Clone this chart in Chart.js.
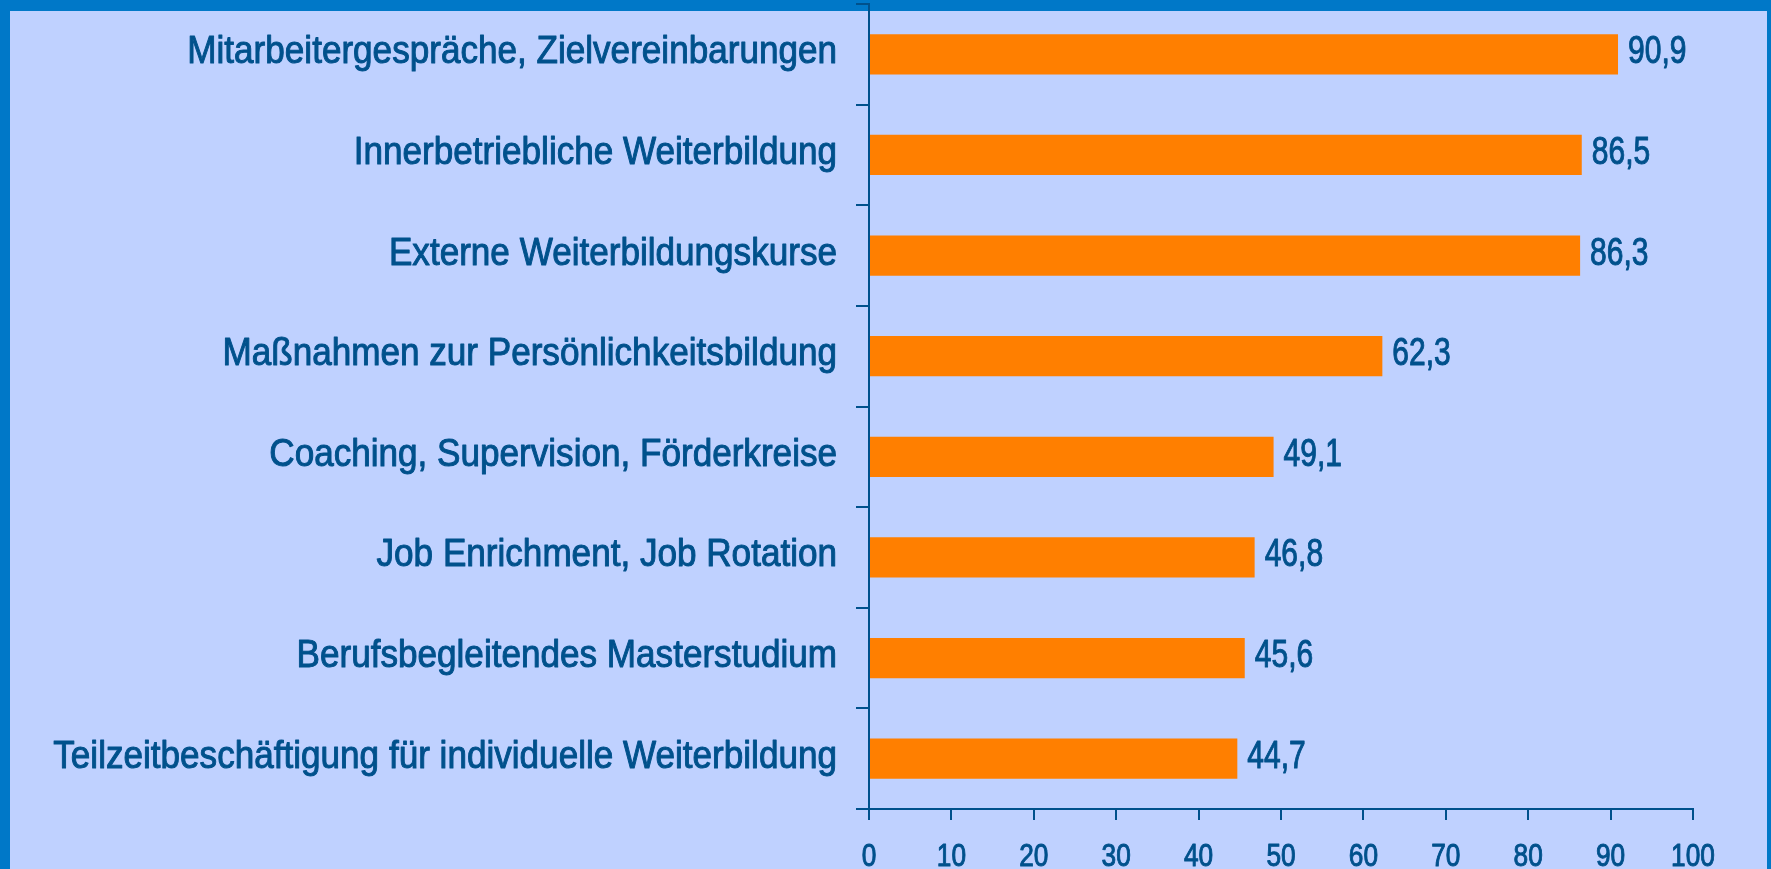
<!DOCTYPE html>
<html>
<head>
<meta charset="utf-8">
<script src="https://cdn.jsdelivr.net/npm/chart.js@4/dist/chart.umd.min.js"></script>
<style>
html,body{margin:0;padding:0;background:#BFD1FF;}
#wrap{position:relative;width:1771px;height:869px;}
</style>
</head>
<body>
<div id="wrap"><canvas id="c" width="1771" height="869"></canvas></div>
<script>
const categories = [
  "Mitarbeitergespräche, Zielvereinbarungen",
  "Innerbetriebliche Weiterbildung",
  "Externe Weiterbildungskurse",
  "Maßnahmen zur Persönlichkeitsbildung",
  "Coaching, Supervision, Förderkreise",
  "Job Enrichment, Job Rotation",
  "Berufsbegleitendes Masterstudium",
  "Teilzeitbeschäftigung für individuelle Weiterbildung"
];
const values = [90.9, 86.5, 86.3, 62.3, 49.1, 46.8, 45.6, 44.7];
const xTicks = [0, 10, 20, 30, 40, 50, 60, 70, 80, 90, 100];

const FONT = '"Liberation Sans", Arial, sans-serif';
const TEXT = '#00518C';

function narrowText(ctx, txt, x, y, size, align, sx) {
  ctx.save();
  ctx.font = size + 'px ' + FONT;
  ctx.fillStyle = TEXT;
  ctx.strokeStyle = TEXT;
  ctx.lineWidth = 1.0;
  ctx.lineJoin = 'round';
  ctx.textBaseline = 'alphabetic';
  ctx.textAlign = 'left';
  const w = ctx.measureText(txt).width * sx;
  let left = x;
  if (align === 'right') left = x - w;
  else if (align === 'center') left = x - w / 2;
  ctx.translate(left, y);
  ctx.scale(sx, 1);
  ctx.fillText(txt, 0, 0);
  ctx.strokeText(txt, 0, 0);
  ctx.restore();
}

const framePlugin = {
  id: 'frame',
  beforeDraw(chart) {
    const ctx = chart.ctx;
    ctx.save();
    ctx.fillStyle = '#0078C8';
    ctx.fillRect(0, 0, chart.width, chart.height);
    ctx.fillStyle = '#BFD1FF';
    ctx.fillRect(10, 11, chart.width - 14, chart.height - 11);
    ctx.restore();
  }
};

const labelPlugin = {
  id: 'labels',
  afterDraw(chart) {
    const ctx = chart.ctx;
    const meta = chart.getDatasetMeta(0);
    const ys = chart.scales.y, xs = chart.scales.x;
    categories.forEach((c, i) => {
      const y = ys.getPixelForValue(i);
      narrowText(ctx, c, ys.right - 32, y + 9, 39, 'right', 0.9);
    });
    meta.data.forEach((bar, i) => {
      const txt = values[i].toFixed(1).replace('.', ',');
      narrowText(ctx, txt, bar.x + 10, bar.y + 9, 39, 'left', 0.77);
    });
    xTicks.forEach(v => {
      narrowText(ctx, String(v), xs.getPixelForValue(v), xs.top + 57, 32, 'center', 0.82);
    });
  }
};

new Chart(document.getElementById('c'), {
  type: 'bar',
  data: {
    labels: categories,
    datasets: [{
      data: values,
      backgroundColor: '#FF7F00',
      borderWidth: 0,
      categoryPercentage: 1,
      barPercentage: 0.4
    }]
  },
  options: {
    indexAxis: 'y',
    responsive: false,
    animation: false,
    layout: { padding: { top: 4, right: 78, left: 0, bottom: 0 } },
    plugins: { legend: { display: false }, tooltip: { enabled: false } },
    scales: {
      x: {
        min: 0, max: 100,
        afterBuildTicks(scale) { scale.ticks = xTicks.map(v => ({ value: v })); },
        afterFit(scale) { scale.height = 60; scale.paddingLeft = 0; scale.paddingRight = 0; },
        border: { display: true, color: TEXT, width: 2 },
        grid: { drawOnChartArea: false, drawTicks: true, tickLength: 11, color: TEXT, lineWidth: 2 },
        ticks: { display: false }
      },
      y: {
        afterFit(scale) { scale.width = 869; scale.paddingTop = 0; scale.paddingBottom = 0; },
        border: { display: true, color: TEXT, width: 2 },
        grid: { offset: true, drawOnChartArea: false, drawTicks: true, tickLength: 13, color: TEXT, lineWidth: 2 },
        ticks: { display: false }
      }
    }
  },
  plugins: [framePlugin, labelPlugin]
});
</script>
</body>
</html>
